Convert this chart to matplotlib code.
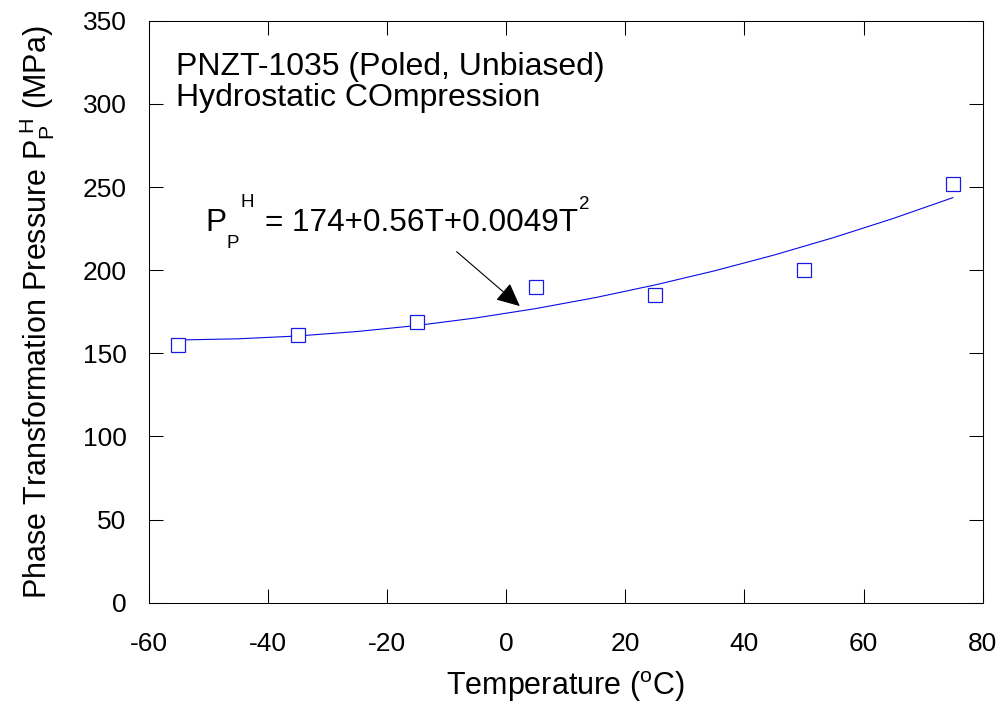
import matplotlib
matplotlib.use('Agg')
import matplotlib.pyplot as plt

plt.rcParams['font.family'] = ['Liberation Sans', 'DejaVu Sans']
plt.rcParams['mathtext.fontset'] = 'custom'
plt.rcParams['mathtext.rm'] = 'Liberation Sans'
plt.rcParams['mathtext.it'] = 'Liberation Sans:italic'
plt.rcParams['mathtext.bf'] = 'Liberation Sans:bold'
plt.rcParams['axes.unicode_minus'] = False

# measured points
temps = [-55, -35, -15, 5, 25, 50, 75]
pressure = [155, 161, 169, 190, 185, 200, 252]

# fitted curve
fit_temps = [-55, -45, -35, -25, -15, -5, 5, 15, 25, 35, 45, 55, 65, 75]
fit_pressure = [158.0, 158.7, 160.4, 163.1, 166.7, 171.3, 176.9, 183.5,
                191.1, 199.6, 209.1, 219.6, 231.1, 243.6]

x_ticks = [-60, -40, -20, 0, 20, 40, 60, 80]
y_ticks = [0, 50, 100, 150, 200, 250, 300, 350]

header_lines = ['PNZT-1035 (Poled, Unbiased)', 'Hydrostatic COmpression']

# annotation anchors (data coords)
eq_pos = (-50.5, 223.5)
arrow_tail = (-8.3, 211.1)
arrow_tip = (2.3, 178.4)

fig = plt.figure(figsize=(10.02, 7.07), dpi=100)
ax = fig.add_axes([0.1484, 0.1475, 0.8323, 0.8232])

ax.plot(fit_temps, fit_pressure, color='#0a0ae6', lw=0.8, zorder=2)
ax.plot(temps, pressure, ls='none', marker='s', ms=9.5, mfc='white',
        mec='#1a1ae6', mew=0.9, zorder=3)

ax.set_xlim(-60, 80)
ax.set_ylim(0, 350)
ax.set_xticks(x_ticks)
ax.set_yticks(y_ticks)
ax.tick_params(direction='in', top=True, right=True, length=10, width=0.75,
               labelsize=19)
ax.tick_params(axis='x', pad=21)
ax.tick_params(axis='y', pad=16)
for sp in ax.spines.values():
    sp.set_linewidth(0.75)

ax.set_xlabel(r'Temperature ($\mathregular{^o}$C)', fontsize=22)
ax.set_ylabel(r'Phase Transformation Pressure P$_\mathregular{P}^{\ \mathregular{H}}$ (MPa)',
              fontsize=22)
ax.xaxis.label.set_va('baseline')
ax.yaxis.label.set_va('baseline')
ax.xaxis.set_label_coords(0.5, -0.1586)
ax.yaxis.set_label_coords(-0.123, 0.5)

ax.text(0.033, 0.9067, header_lines[0], transform=ax.transAxes,
        fontsize=23, va='baseline')
ax.text(0.033, 0.8534, header_lines[1], transform=ax.transAxes,
        fontsize=23, va='baseline')

# equation label built from pieces (offsets in points, 1px = 0.72pt)
eq_parts = [('P', 0, 0, 22.7), ('P', 21.7, -17.3, 13.5), ('H', 35, 24.3, 13.5),
            ('= 174+0.56T+0.0049T', 60, 0, 22.7), ('2', 374, 22, 13.5)]
for s, dx, dy, fs in eq_parts:
    ax.annotate(s, xy=eq_pos, xycoords='data', xytext=(dx * 0.72, dy * 0.72),
                textcoords='offset points', fontsize=fs, va='baseline', ha='left')

ax.annotate('', xy=arrow_tip, xytext=arrow_tail,
            arrowprops=dict(arrowstyle='-|>,head_length=1.44,head_width=0.68',
                            mutation_scale=10, color='black', lw=0.8,
                            shrinkA=0, shrinkB=0))

fig.savefig('out.png', dpi=100)
